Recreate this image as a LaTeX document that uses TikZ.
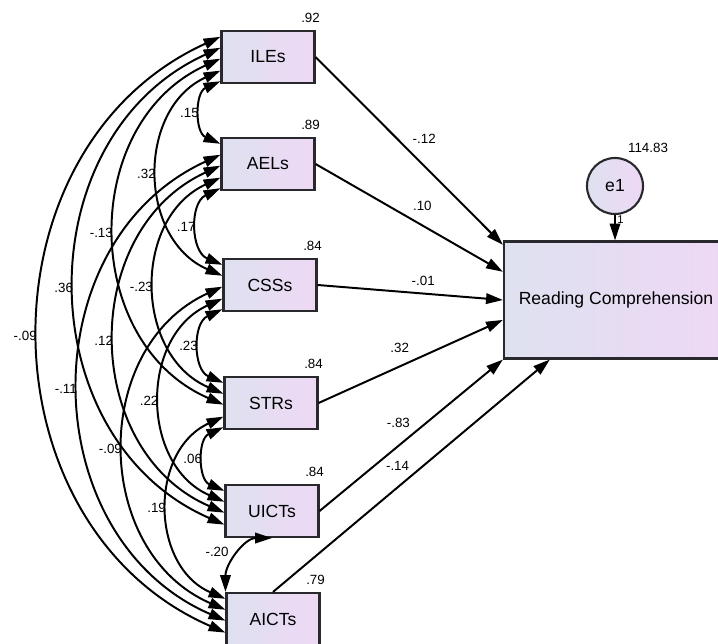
\documentclass[tikz,border=0pt]{standalone}
\usepackage{fontspec}
\setmainfont{Liberation Sans}
\usepackage{tikz}
\usetikzlibrary{
    positioning,
    arrows.meta,
    calc
}
\definecolor{boxLeft}{RGB}{222, 225, 240}
\definecolor{boxRight}{RGB}{238, 216, 244}
\definecolor{boxLine}{RGB}{40, 40, 45}

\begin{document}
\begin{tikzpicture}[x=0.025cm, y=0.025cm, >={Triangle[length=12pt, width=7.5pt]},
        obs/.style={draw=boxLine, line width=1.5pt, left color=boxLeft, right color=boxRight,
            minimum width=2.325cm, minimum height=1.3cm, font=\fontsize{12.5}{15}\selectfont},
        err/.style={circle, draw=boxLine, line width=1.5pt, left color=boxLeft, right color=boxRight,
            minimum size=1.4cm, inner sep=0pt, font=\fontsize{12.5}{15}\selectfont},
        lab/.style={inner sep=1pt, font=\fontsize{9.5}{11}\selectfont},
        reg/.style={->, line width=1.4pt},
        cov/.style={<->, line width=1.4pt},
        covarc/.style={cov, bend right=66, looseness=1.15}]
        \fill[white] (0,0) rectangle (718,644);
        \useasboundingbox (0,0) rectangle (718,644);

        % Observed variables
        \node[obs] (ile)  at (268, 587) {ILEs};
        \node[obs] (ael)  at (268, 480) {AELs};
        \node[obs] (css)  at (270, 359) {CSSs};
        \node[obs] (str)  at (271, 241) {STRs};
        \node[obs] (uict) at (272, 133) {UICTs};
        \node[obs] (aict) at (273, 25)  {AICTs};
        \node[obs, minimum width=5.6cm, minimum height=2.925cm] (rc) at (616, 344) {Reading Comprehension};
        \node[err] (e1) at (615, 458) {e1};

        % Squared multiple correlations
        \node[lab, anchor=south] (r-ile)  at ($(ile.north east)+(-5,6)$)  {.92};
        \node[lab, anchor=south] (r-ael)  at ($(ael.north east)+(-5,6)$)  {.89};
        \node[lab, anchor=south] (r-css)  at ($(css.north east)+(-5,6)$)  {.84};
        \node[lab, anchor=south] (r-str)  at ($(str.north east)+(-5,6)$)  {.84};
        \node[lab, anchor=south] (r-uict) at ($(uict.north east)+(-5,6)$) {.84};
        \node[lab, anchor=south] (r-aict) at ($(aict.north east)+(-5,6)$) {.79};
        \node[lab] (r-e1) at ($(e1)+(33,38)$) {114.83};

        % Regression weights
        \draw[reg] (ile.east)   -- node[lab, pos=.58, above=14pt] {-.12} (rc.154);
        \draw[reg] (ael.east)   -- node[lab, pos=.57, above=8.5pt] {.10} (rc.166);
        \draw[reg] (css.east)   -- node[lab, pos=.57, above=4pt] {-.01} (rc.180);
        \draw[reg] (str.east)   -- node[lab, pos=.44, above=8pt] {.32} (rc.190);
        \draw[reg] (uict.east)  -- node[lab, pos=.43, above=11pt] {-.83} (rc.south west);
        \draw[reg] (aict.north) -- node[lab, pos=.45, above=10.5pt] {-.14} (rc.222);
        \draw[reg] (e1.south) -- node[lab, pos=.2, right=0pt, font=\fontsize{8}{9}\selectfont] {1} (e1.south |- rc.north);

        % Covariances
        \draw[covarc] (ile.207) to node[lab, left] {.15} (ael.157);
        \draw[covarc] (ile.196) to node[lab, left] {.32} (css.169);
        \draw[covarc] (ile.182) to node[lab, left] {-.13} (str.182);
        \draw[covarc] (ile.169) to node[lab, left] {.36} (uict.196);
        \draw[covarc] (ile.157) to node[lab, left] {-.09} (aict.196);
        \draw[covarc] (ael.207) to node[lab, left] {.17} (css.157);
        \draw[covarc] (ael.196) to node[lab, left] {-.23} (str.169);
        \draw[covarc] (ael.182) to node[lab, left] {.12} (uict.182);
        \draw[covarc] (ael.169) to node[lab, left] {-.11} (aict.182);
        \draw[covarc] (css.207) to node[lab, left] {.23} (str.157);
        \draw[covarc] (css.196) to node[lab, left] {.22} (uict.169);
        \draw[covarc] (css.182) to node[lab, left] {-.09} (aict.169);
        \draw[covarc] (str.207) to node[lab, left] {.06} (uict.157);
        \draw[covarc] (str.196) to node[lab, left] {.19} (aict.157);
        \draw[cov] (aict.north west) to[out=90, in=180] node[lab, pos=.55, left=7pt] {-.20} (uict.south);
    \end{tikzpicture}
\end{document}
